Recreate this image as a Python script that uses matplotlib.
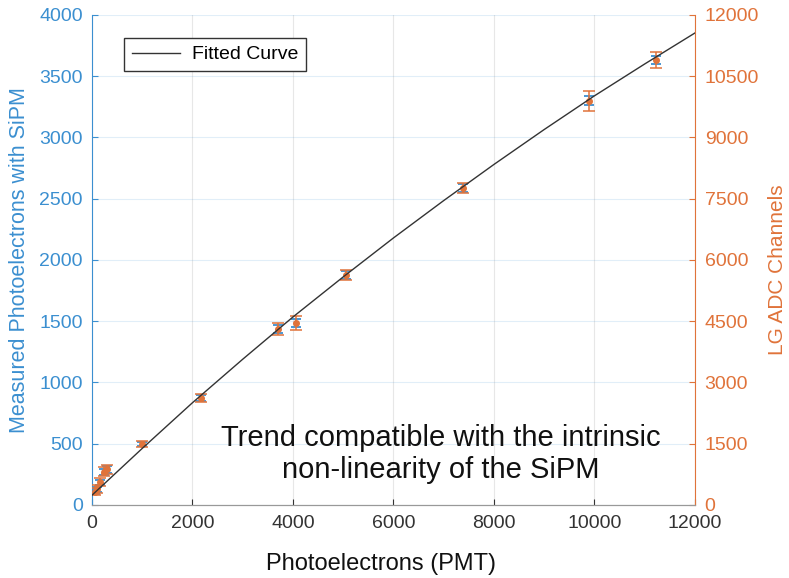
import matplotlib
matplotlib.use("Agg")
import matplotlib.pyplot as plt

plt.rcParams.update({
    "font.family": ["Liberation Sans", "DejaVu Sans"],
    "axes.linewidth": 0.8,
})

BLUE = "#3b8fd0"
ORANGE = "#e0733a"

# measured points (PMT photoelectrons, SiPM photoelectrons, LG ADC channels)
pmt_pe = [60, 95, 150, 230, 290, 990, 2170, 3700, 4060, 5050, 7380, 9900, 11230]
sipm_pe = [112, 128, 185, 272, 290, 498, 872, 1437, 1486, 1878, 2588, 3300, 3633]
sipm_err = [20, 20, 20, 25, 25, 20, 22, 30, 30, 30, 30, 35, 35]
adc = [330, 390, 560, 820, 870, 1495, 2615, 4310, 4455, 5635, 7760, 9900, 10900]
adc_err = [90, 90, 90, 110, 110, 80, 100, 150, 170, 120, 120, 250, 200]

# fitted curve
fit_x = [0, 1000, 2000, 3000, 4000, 5000, 6000, 7000, 8000, 9000, 10000, 11000, 12000]
fit_y = [80, 462, 835, 1190, 1535, 1862, 2180, 2485, 2780, 3065, 3340, 3600, 3853]

fig = plt.figure(figsize=(7.89, 5.78), dpi=100)
ax = fig.add_axes([0.1166, 0.1263, 0.7642, 0.8478])
ax2 = ax.twinx()

ax.errorbar(pmt_pe, sipm_pe, yerr=sipm_err, fmt="none", ecolor=BLUE,
            elinewidth=1.3, capsize=3.5, capthick=1.3, zorder=2)
ax2.errorbar(pmt_pe, adc, yerr=adc_err, fmt="o", color=ORANGE, ms=4,
             ecolor=ORANGE, elinewidth=1.1, capsize=4.5, capthick=1.1, zorder=3)
fit_line, = ax2.plot(fit_x, fit_y, color="#333333", lw=1.0,
                     transform=ax.transData, zorder=4, label="Fitted Curve")

ax.set_xlim(0, 12000)
ax.set_ylim(0, 4000)
ax2.set_ylim(0, 12000)
ax.set_xticks(range(0, 12001, 2000))
ax.set_yticks(range(0, 4001, 500))
ax2.set_yticks(range(0, 12001, 1500))

ax.grid(True, which="major", axis="y", color=BLUE, alpha=0.15, lw=0.8)
ax.grid(True, which="major", axis="x", color="#888888", alpha=0.2, lw=0.8)
ax.set_axisbelow(True)

ax.tick_params(axis="x", direction="in", colors="#333333", labelsize=14,
               length=4, width=0.8, pad=7)
ax.tick_params(axis="y", direction="in", colors=BLUE, labelsize=14,
               length=4, width=0.8, pad=6.5)
ax2.tick_params(axis="y", direction="in", colors=ORANGE, labelsize=14,
                length=4, width=0.8, pad=7)

for a in (ax, ax2):
    a.spines["top"].set_visible(False)
    a.spines["bottom"].set_color("#999999")
ax.spines["left"].set_color(BLUE)
ax.spines["right"].set_visible(False)
ax2.spines["left"].set_visible(False)
ax2.spines["right"].set_color(ORANGE)

ax.set_xlabel("Photoelectrons (PMT)", fontsize=17, color="#111111")
ax.xaxis.set_label_coords(0.479, -0.098)
ax.set_ylabel("Measured Photoelectrons with SiPM", fontsize=15.5, color=BLUE,
              labelpad=7)
ax2.set_ylabel("LG ADC Channels", fontsize=15, color=ORANGE)
ax2.yaxis.set_label_coords(1.121, 0.48)

ax2.legend(handles=[fit_line], loc="upper left", bbox_to_anchor=(0.053, 0.953),
           fontsize=14, frameon=True, fancybox=False, edgecolor="#333333",
           framealpha=1, borderpad=0.4, handlelength=2.5, handletextpad=0.6,
           borderaxespad=0)

ax.text(0.579, 0.104, "Trend compatible with the intrinsic\nnon-linearity of the SiPM",
        transform=ax.transAxes, ha="center", va="center", fontsize=21,
        color="#111111", linespacing=1.15)

fig.savefig("out.png", dpi=100)
